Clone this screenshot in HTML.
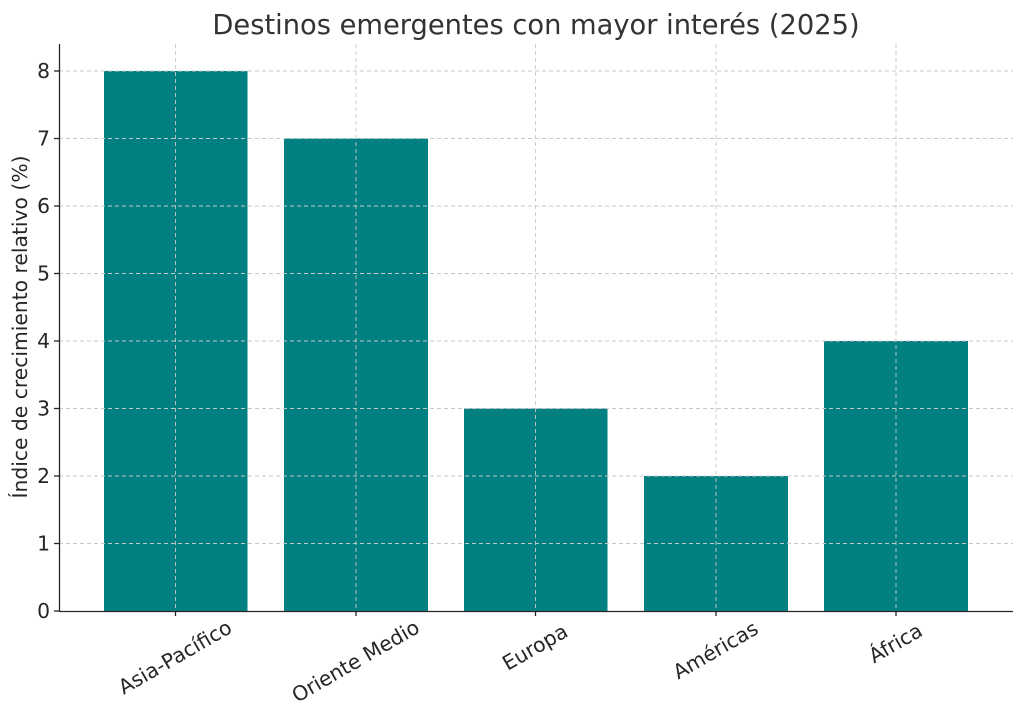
<!DOCTYPE html>
<html><head><meta charset="utf-8"><style>body{margin:0;background:#fff}svg{display:block}</style></head><body>
<svg width="1024" height="719" xmlns="http://www.w3.org/2000/svg" font-family="DejaVu Sans, Liberation Sans, sans-serif" fill="#262626">
<text x="536" y="34" font-size="27.3" text-anchor="middle" fill="#333">Destinos emergentes con mayor interés (2025)</text>
<g fill="#008080">
<rect x="104" y="71" width="143.5" height="540"/>
<rect x="284" y="138.5" width="144" height="472.5"/>
<rect x="464" y="408.5" width="143.5" height="202.5"/>
<rect x="644" y="476" width="144" height="135"/>
<rect x="824" y="341" width="144" height="270"/>
</g>
<g stroke="#c8c8c8" stroke-width="0.9" stroke-dasharray="4,3">
<line x1="59" x2="1013" y1="71" y2="71"/><line x1="59" x2="1013" y1="138.5" y2="138.5"/>
<line x1="59" x2="1013" y1="206" y2="206"/><line x1="59" x2="1013" y1="273.5" y2="273.5"/>
<line x1="59" x2="1013" y1="341" y2="341"/><line x1="59" x2="1013" y1="408.5" y2="408.5"/>
<line x1="59" x2="1013" y1="476" y2="476"/><line x1="59" x2="1013" y1="543.5" y2="543.5"/>
<line y1="44" y2="611" x1="175.5" x2="175.5"/><line y1="44" y2="611" x1="356" x2="356"/>
<line y1="44" y2="611" x1="535.5" x2="535.5"/><line y1="44" y2="611" x1="716" x2="716"/>
<line y1="44" y2="611" x1="896" x2="896"/>
</g>
<g stroke="#262626" stroke-width="1.3">
<line x1="59.5" x2="59.5" y1="44" y2="611.5"/><line x1="59" x2="1013" y1="611.5" y2="611.5"/>
<line x1="54" x2="59" y1="71" y2="71"/><line x1="54" x2="59" y1="138.5" y2="138.5"/><line x1="54" x2="59" y1="206" y2="206"/>
<line x1="54" x2="59" y1="273.5" y2="273.5"/><line x1="54" x2="59" y1="341" y2="341"/><line x1="54" x2="59" y1="408.5" y2="408.5"/>
<line x1="54" x2="59" y1="476" y2="476"/><line x1="54" x2="59" y1="543.5" y2="543.5"/><line x1="54" x2="59" y1="611" y2="611"/>
<line x1="175.5" x2="175.5" y1="611" y2="616"/><line x1="356" x2="356" y1="611" y2="616"/><line x1="535.5" x2="535.5" y1="611" y2="616"/>
<line x1="716" x2="716" y1="611" y2="616"/><line x1="896" x2="896" y1="611" y2="616"/>
</g>
<g font-size="20.3" text-anchor="end">
<text x="50" y="78">8</text><text x="50" y="145.5">7</text><text x="50" y="213">6</text><text x="50" y="280.5">5</text>
<text x="50" y="348">4</text><text x="50" y="415.5">3</text><text x="50" y="483">2</text><text x="50" y="550.5">1</text><text x="50" y="618">0</text>
</g>
<text transform="translate(27,327) rotate(-90)" font-size="20.3" text-anchor="middle">Índice de crecimiento relativo (%)</text>
<g font-size="20.3" text-anchor="middle">
<text transform="translate(175.5,658) rotate(-30)" dy="6">Asia-Pacífico</text>
<text transform="translate(356,662) rotate(-30)" dy="6">Oriente Medio</text>
<text transform="translate(535.5,648) rotate(-30)" dy="6">Europa</text>
<text transform="translate(716,651) rotate(-30)" dy="6">Américas</text>
<text transform="translate(896,644) rotate(-30)" dy="6">África</text>
</g>
</svg>
</body></html>
